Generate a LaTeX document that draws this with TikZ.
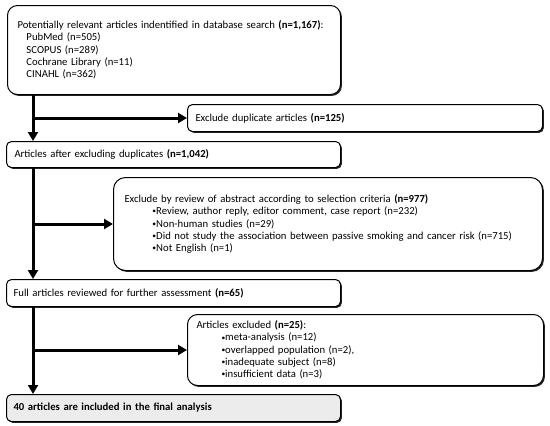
\documentclass[tikz,border=0pt]{standalone}
\usepackage{fontspec}
\setmainfont{Carlito}
\usetikzlibrary{arrows.meta,shadows}
\definecolor{finalgray}{RGB}{236,236,236}
\newcommand{\sbul}{{\fontsize{7.5}{7.5}\selectfont\raisebox{0.25ex}{•}}}
\begin{document}
\begin{tikzpicture}[x=1pt,y=-1pt,
  box/.style={draw=black, line width=1pt, fill=white, anchor=north west, align=left,
    inner ysep=0pt, font=\fontsize{10.7}{12.3}\selectfont,
    drop shadow={shadow xshift=1.4pt, shadow yshift=-1.4pt, opacity=0.85, fill=black}},
  flow/.style={line width=3pt, -{Triangle[length=9pt,width=10pt]}}]
\useasboundingbox (0,0) rectangle (550,426);

\node[box, rounded corners=10pt, inner xsep=10pt, text width=313pt, minimum width=333pt, minimum height=89pt] (b1) at (7,5)
 {Potentially relevant articles indentified in database search \textbf{(n=1,167)}:\\
  \hspace*{9pt}PubMed (n=505)\\
  \hspace*{9pt}SCOPUS (n=289)\\
  \hspace*{9pt}Cochrane Library (n=11)\\
  \hspace*{9pt}CINAHL (n=362)};

\node[box, rounded corners=5pt, inner xsep=8pt, text width=339pt, minimum width=355pt, minimum height=27pt] (b2) at (187,104)
 {Exclude duplicate articles \textbf{(n=125)}};

\node[box, rounded corners=5pt, inner xsep=8pt, text width=318pt, minimum width=334pt, minimum height=26pt] (b3) at (6,141)
 {Articles after excluding duplicates \textbf{(n=1,042)}};

\node[box, rounded corners=12pt, inner xsep=11pt, text width=407pt, minimum width=429pt, minimum height=93pt] (b4) at (113,177)
 {Exclude by review of abstract according to selection criteria \textbf{(n=977)}\\
  \hspace*{28pt}\sbul Review, author reply, editor comment, case report (n=232)\\
  \hspace*{28pt}\sbul Non-human studies (n=29)\\
  \hspace*{28pt}\sbul Did not study the association between passive smoking and cancer risk (n=715)\\
  \hspace*{28pt}\sbul Not English (n=1)};

\node[box, rounded corners=5pt, inner xsep=7pt, text width=320pt, minimum width=334pt, minimum height=27pt] (b5) at (6,279)
 {Full articles reviewed for further assessment \textbf{(n=65)}};

\node[box, rounded corners=10pt, inner xsep=9pt, text width=338pt, minimum width=356pt, minimum height=71pt] (b6) at (187,314)
 {Articles excluded \textbf{(n=25)}:\\
  \hspace*{25pt}\sbul meta-analysis (n=12)\\
  \hspace*{25pt}\sbul overlapped population (n=2),\\
  \hspace*{25pt}\sbul inadequate subject (n=8)\\
  \hspace*{25pt}\sbul insufficient data (n=3)};

\node[box, fill=finalgray, rounded corners=5pt, inner xsep=7pt, text width=320pt, minimum width=334pt, minimum height=27pt] (b7) at (6,394)
 {\textbf{40 articles are included in the final analysis}};

% main trunk coordinates
\coordinate (t1) at ([xshift=26pt]b1.south west);
\coordinate (t3) at ([xshift=27pt]b3.north west);
\coordinate (t3s) at ([xshift=27pt]b3.south west);
\coordinate (t5) at ([xshift=27pt]b5.north west);
\coordinate (t5s) at ([xshift=27pt]b5.south west);
\coordinate (t7) at ([xshift=27pt]b7.north west);

\draw[flow] (t1) -- (t3);
\draw[flow] (b2.west -| t1) -- (b2.west);
\draw[flow] (t3s) -- (t5);
\draw[flow] (b4.west -| t3s) -- (b4.west);
\draw[flow] (t5s) -- (t7);
\draw[flow] (b6.west -| t5s) -- (b6.west);
\end{tikzpicture}
\end{document}
